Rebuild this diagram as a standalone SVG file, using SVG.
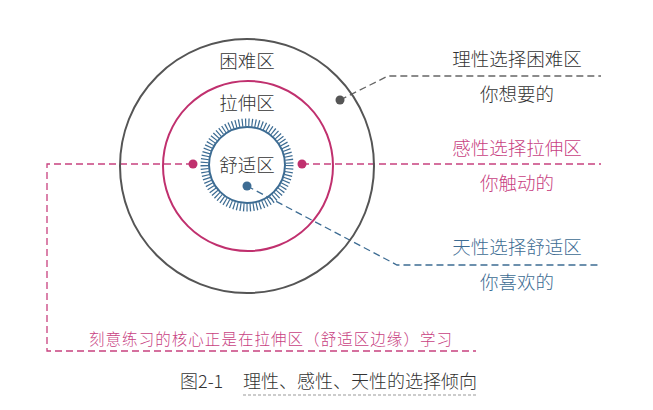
<svg xmlns="http://www.w3.org/2000/svg" width="653" height="410" viewBox="0 0 653 410">
<style>
text{font-family:"Noto Sans CJK SC","Noto Sans",sans-serif;font-weight:300;}
.c{text-anchor:middle;font-size:18.5px;}
.k{fill:#333}
.p{fill:#c8417f}
.b{fill:#3d6c93}
.dash{fill:none;stroke-width:1.3;stroke-dasharray:7 4}
</style>
<rect width="653" height="410" fill="#fff"/>
<g id="connectors">
<polyline class="dash" stroke="#666" points="340,100 388,76 601,76"/>
<polyline class="dash" stroke="#c8417f" points="193,164 47,164 47,351 476,351"/>
<line class="dash" stroke="#c8417f" x1="302" y1="164" x2="601" y2="164"/>
<polyline class="dash" stroke="#3d6c93" points="247,186 397,265 601,265"/>
</g>
<g id="hard-zone">
<circle cx="247" cy="166" r="127" fill="none" stroke="#555" stroke-width="2"/>
<text class="c k" x="247" y="68">困难区</text>
<circle cx="340" cy="100" r="4.5" fill="#555"/>
</g>
<g id="stretch-zone">
<circle cx="248" cy="166" r="85" fill="none" stroke="#c0306e" stroke-width="2"/>
<text class="c k" x="247" y="110">拉伸区</text>
<circle cx="193" cy="164" r="4.5" fill="#c0306e"/>
<circle cx="302" cy="164" r="4.5" fill="#c0306e"/>
</g>
<g id="comfort-zone">
<circle cx="247" cy="165" r="38" fill="none" stroke="#3d6c93" stroke-width="2"/>
<circle cx="247" cy="165" r="42.5" fill="none" stroke="#3d6c93" stroke-width="8" stroke-dasharray="1.2 2.1"/>
<text class="c k" x="247" y="172">舒适区</text>
<circle cx="247" cy="186" r="4.5" fill="#3d6c93"/>
</g>
<g id="rational">
<text class="c k" x="517" y="66">理性选择困难区</text>
<text class="c k" x="517" y="101">你想要的</text>
</g>
<g id="emotional">
<text class="c p" x="517" y="155">感性选择拉伸区</text>
<text class="c p" x="517" y="190">你触动的</text>
</g>
<g id="instinct">
<text class="c b" x="517" y="254">天性选择舒适区</text>
<text class="c b" x="517" y="289">你喜欢的</text>
</g>
<g id="note">
<text class="p" x="89" y="345" font-size="15.5" textLength="363" lengthAdjust="spacing">刻意练习的核心正是在拉伸区（舒适区边缘）学习</text>
</g>
<g id="caption">
<text class="k" x="180" y="388" font-size="18" font-weight="400">图2-1</text>
<text class="k" x="243" y="388" font-size="18" font-weight="400" textLength="234" lengthAdjust="spacing">理性、感性、天性的选择倾向</text>
<line x1="243" y1="395" x2="477" y2="395" stroke="#999" stroke-width="1" stroke-dasharray="3 2"/>
</g>
</svg>
